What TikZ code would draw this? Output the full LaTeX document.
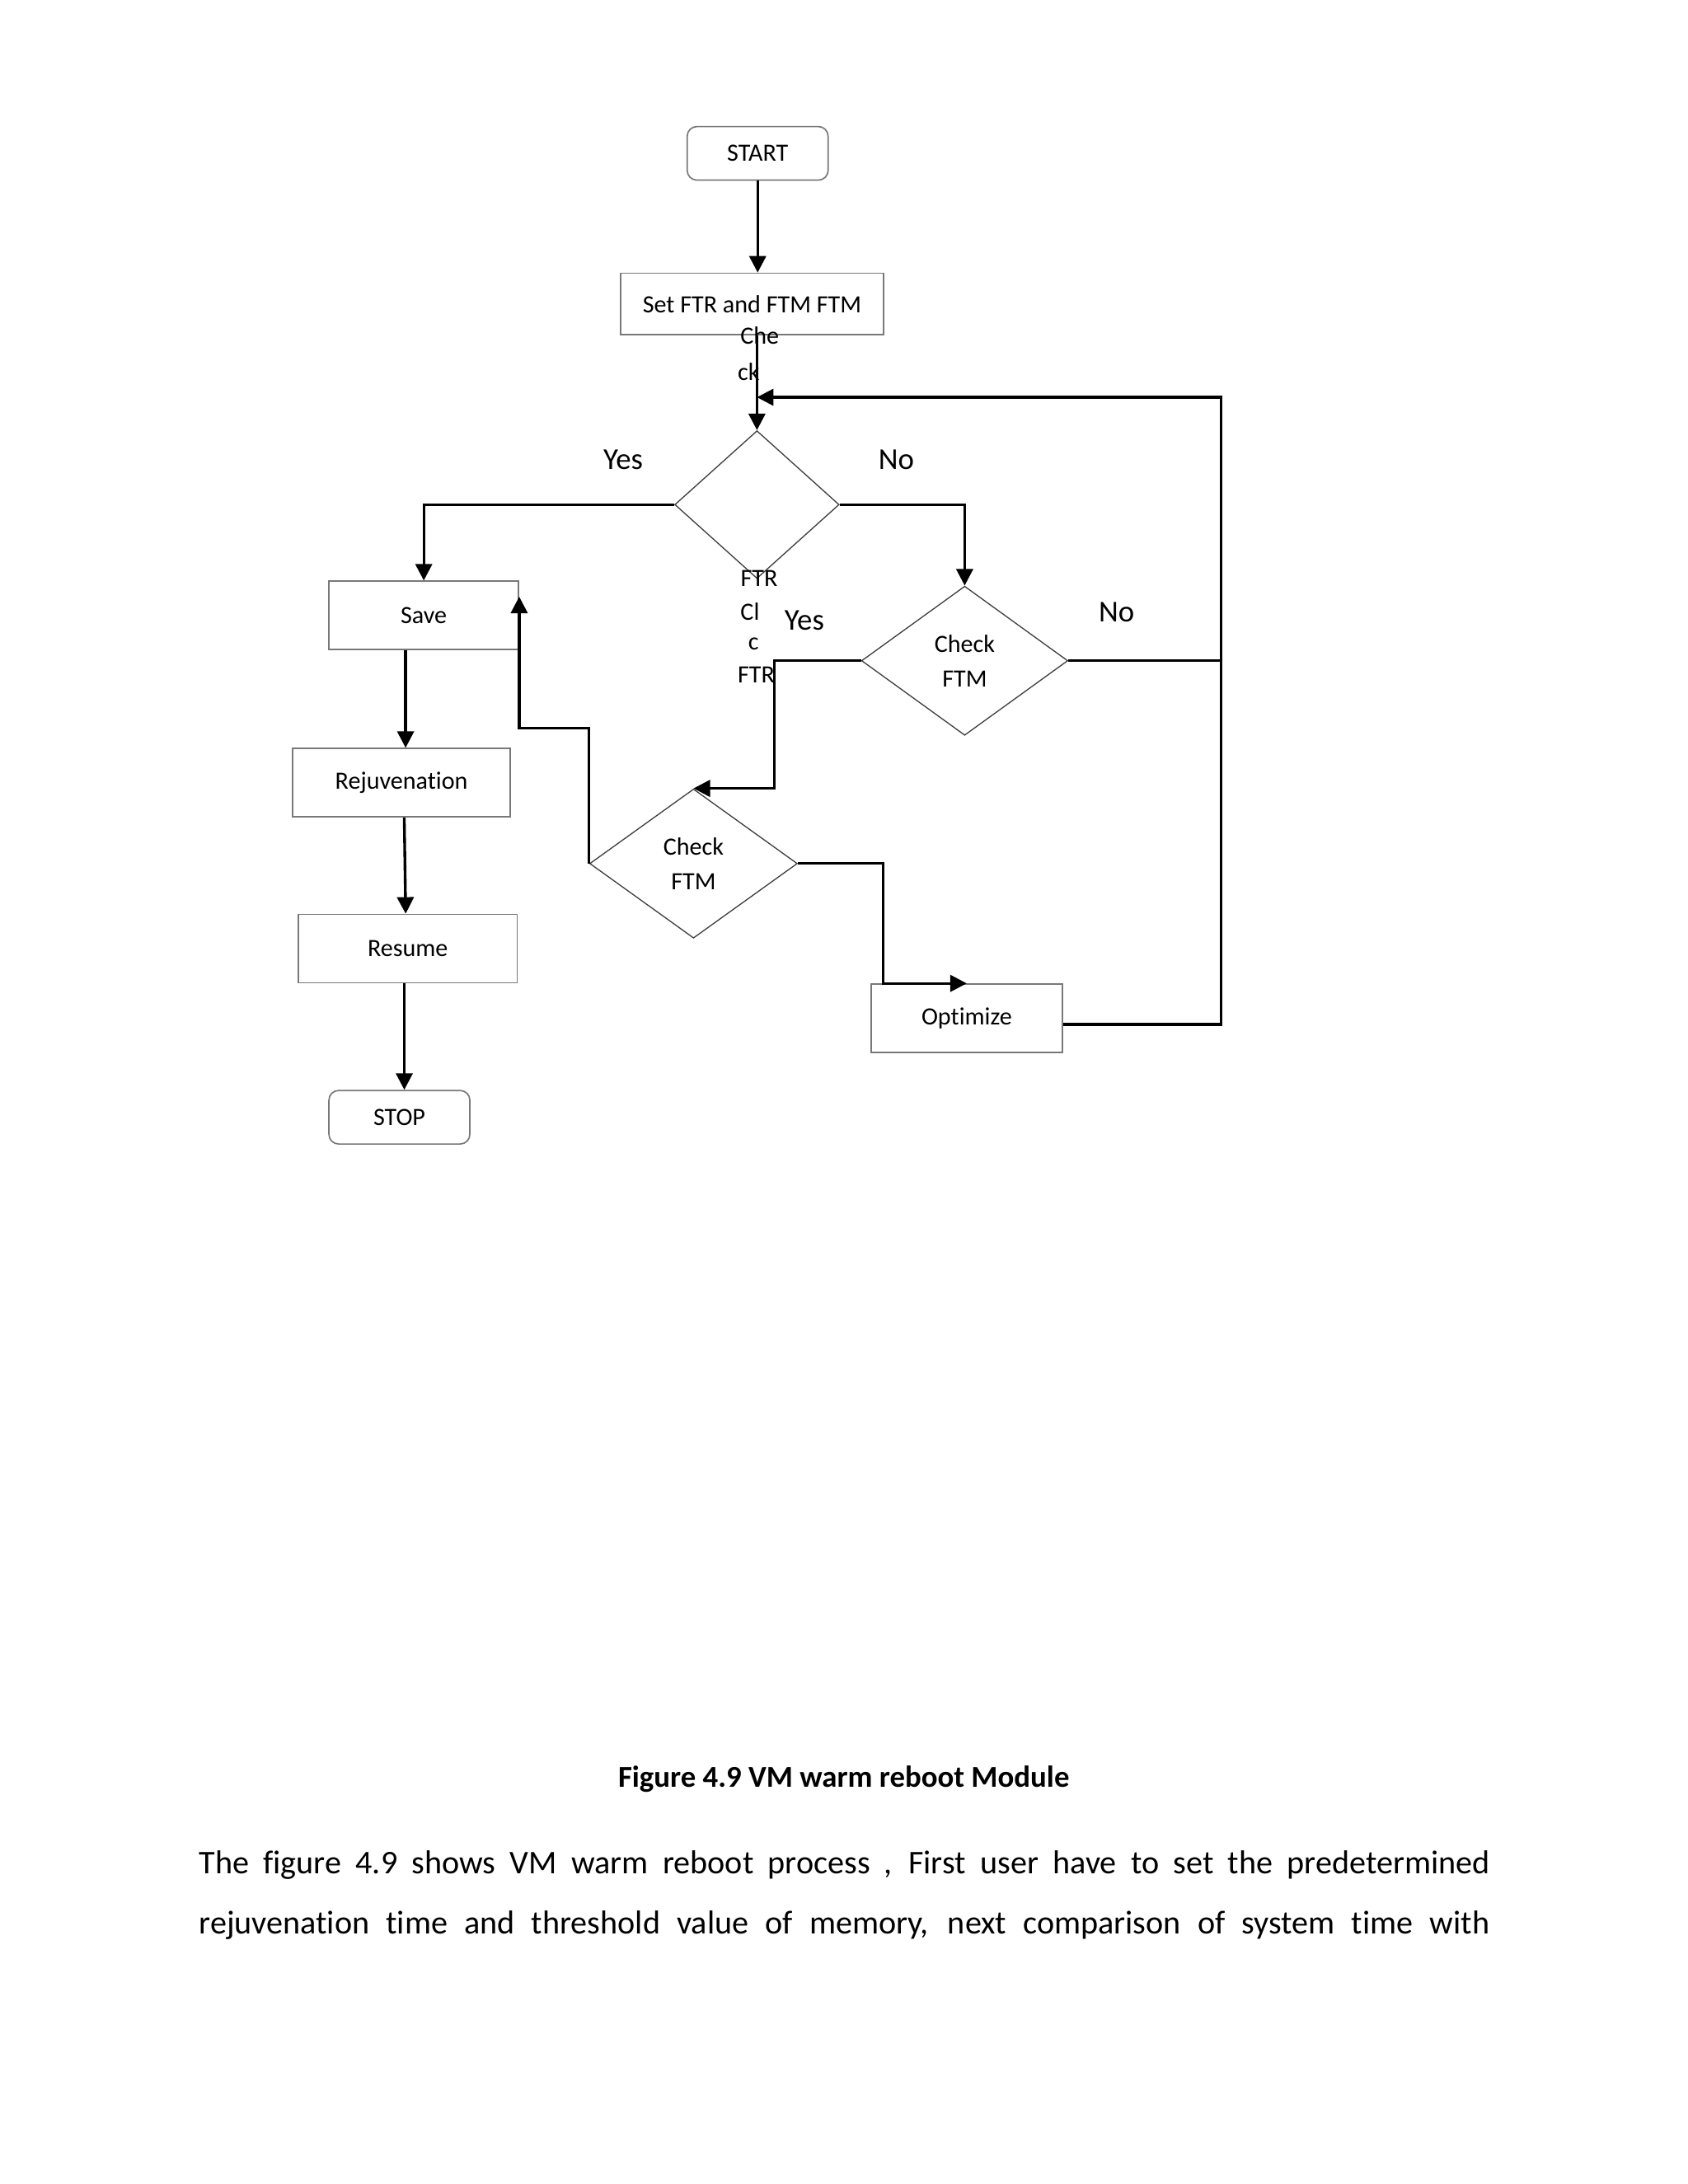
\documentclass[tikz,border=0pt]{standalone}
\usepackage{fontspec}
\setmainfont{Carlito}[Ligatures={NoCommon}]
\usetikzlibrary{arrows.meta,shapes.geometric}
\definecolor{boxgray}{RGB}{120,120,120}
\begin{document}
\begin{tikzpicture}[x=0.5055pt,y=-0.5055pt,
  box/.style={draw=boxgray, line width=0.5pt, inner sep=0pt, font=\fontsize{9}{11}\selectfont, minimum height=24.8pt},
  term/.style={box, rounded corners=3.5pt, minimum width=51.1pt, minimum height=19.4pt},
  dec/.style={draw=black!75, line width=0.4pt, shape=diamond, inner sep=0pt, align=center, font=\fontsize{9}{12.6}\selectfont},
  conn/.style={line width=1pt},
  arr/.style={conn, -{Triangle[length=6pt,width=6pt]}},
  lbl/.style={font=\fontsize{11}{13}\selectfont, inner sep=0pt},
  frag/.style={font=\fontsize{9}{11}\selectfont, inner sep=0pt}
]
\fill[white] (0,0) rectangle (1210.7,1566.8);
\useasboundingbox (0,0) rectangle (1210.7,1566.8);

% nodes
\node[term] (start) at (543.5,110) {START};
\node[box, minimum width=95.5pt, minimum height=22.2pt] (set) at (539.5,218) {Set FTR and FTM FTM};
\node[dec, minimum width=59.6pt, minimum height=53.6pt] (d1) at (543,362) {};
\node[dec, minimum width=74.8pt, minimum height=54.1pt] (d2) at (692,474) {Check\\FTM};
\node[dec, minimum width=75.3pt, minimum height=54.1pt] (d3) at (497.5,619.5) {Check\\FTM};
\node[box, minimum width=68.7pt] (save) at (304,441.5) {Save};
\node[box, minimum width=78.9pt] (rejuv) at (288,561.5) {Rejuvenation};
\node[box, minimum width=79.4pt] (resume) at (292.5,680.5) {Resume};
\node[term] (stop) at (286.5,801.5) {STOP};
\node[box, minimum width=69.3pt] (opt) at (693.5,730.5) {Optimize};

\coordinate (rx) at (876,285);
\coordinate (join) at (543,285);

% connectors
\draw[arr] (start.south) -- (start.south |- set.north);
\draw[arr] (d1.north |- set.south) -- (d1.north);
\draw[arr] ([yshift=-2.2pt]opt.east) -| (rx) -- (join);
\draw[conn] (d2.east) -- (d2.east -| rx);
\draw[arr] (d1.west) -| (save.north);
\draw[arr] (d1.east) -| (d2.north);
\draw[arr] ([xshift=1.5pt]rejuv.north |- save.south) -- ([xshift=1.5pt]rejuv.north);
\draw[arr] ([xshift=1pt]rejuv.south) -- ([xshift=-0.75pt]resume.north);
\draw[arr] ([xshift=-1.25pt]resume.south) -- ([xshift=-1.25pt]resume.south |- stop.north);
\draw[arr] (d2.west) -- ++(-62,0) |- (d3.north);
\draw[arr] (d3.west) -- ++(0,-97) -| ([yshift=6.8pt]save.east);
\draw[arr] (d3.east) -- ++(61,0) |- (opt.north);

% labels
\node[lbl] (yes1) at (447,330) {Yes};
\node[lbl] (no1) at (643,330) {No};
\node[lbl] (yes2) at (577,445) {Yes};
\node[lbl] (no2) at (801,439) {No};

% fragments
\node[frag] (f1) at (545,241) {Che};
\node[frag] (f2) at (537,267) {ck};
\node[frag] (f3) at (544.5,415) {FTR};
\node[frag] (f4) at (538,439) {Cl};
\node[frag] (f5) at (540.5,462) {c};
\node[frag] (f6) at (542.5,484) {FTR};

% caption and text
\node[anchor=base, font=\bfseries\fontsize{11}{13}\selectfont, inner sep=0pt] (cap) at (605.3,1281.9) {Figure 4.9 VM warm reboot Module};
\node[anchor=base west, inner sep=0pt, font=\fontsize{12}{14}\selectfont] (p1) at (142.4,1344.4) {\hbox to 468pt{The figure 4.9 shows VM warm reboot process , First user have to set the predetermined}};
\node[anchor=base west, inner sep=0pt, font=\fontsize{12}{14}\selectfont] (p2) at (142.4,1387.5) {\hbox to 468pt{rejuvenation time and threshold value of memory, next comparison of system time with}};
\end{tikzpicture}
\end{document}
